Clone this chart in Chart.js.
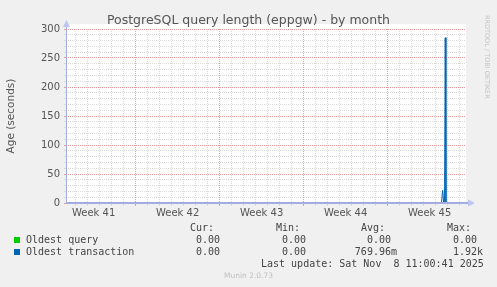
<!DOCTYPE html>
<html>
<head>
<meta charset="utf-8">
<script src="https://cdn.jsdelivr.net/npm/chart.js@4/dist/chart.umd.min.js"></script>
<style>
  body { margin: 0; background: #f0f0f0; }
  #wrap { position: relative; width: 497px; height: 287px; overflow: hidden; background: #f0f0f0; }
  #chart { position: absolute; left: 0; top: 0; }
  .t { position: absolute; white-space: pre; }
  .sans { font-family: "DejaVu Sans", sans-serif; color: #555; }
  .mono { font-family: "DejaVu Sans Mono", monospace; font-size: 10px; line-height: 12px; color: #444; }
</style>
</head>
<body>
<div id="wrap">
  <canvas id="chart" width="497" height="287"></canvas>
  <div class="t sans" style="left:0;width:497px;text-align:center;top:11.5px;font-size:12.5px;line-height:16px;">PostgreSQL query length (eppgw) - by month</div>
  <div class="t sans" style="left:483px;top:15px;font-size:6.5px;line-height:8px;color:#c4c4c4;writing-mode:vertical-rl;">RRDTOOL / TOBI OETIKER</div>
  <div id="legend"></div>
  <div class="t mono" style="left:261px;top:258px;">Last update: Sat Nov  8 11:00:41 2025</div>
  <div class="t sans" style="left:0;width:497px;text-align:center;top:271px;font-size:7.5px;line-height:10px;color:#c0c0c0;">Munin 2.0.73</div>
</div>
<script>
// x values are days since the start of the graph window
const days              = [0, 31.28, 31.39, 31.47, 31.54, 31.6, 31.66, 33.33];
const oldestQuery       = [0, 0,     0,     0,     0,     0,    0,     0];
const oldestTransaction = [0, 0,     22,    0,     0,     285,  0,     0];

const weekLabels = ["Week 41", "Week 42", "Week 43", "Week 44", "Week 45"];
const weekStarts = [-1.2, 5.8, 12.8, 19.8, 26.8];
const xMax = 33.33;

const seriesNames  = ["Oldest query", "Oldest transaction"];
const seriesColors = ["#00cc00", "#0066b3"];
const curVals = [0, 0];
const minVals = [0, 0];
const avgVals = [0, 0.76996];
const maxVals = [0, 1920];

function fmt(v) {
    if (v === 0) return "0.00 ";
    if (Math.abs(v) < 1) return (v * 1000).toFixed(2) + "m";
    if (Math.abs(v) >= 1000) return (v / 1000).toFixed(2) + "k";
    return v.toFixed(2) + " ";
}

// legend table, munin style
const legend = document.getElementById("legend");
const colEdges = [226, 312, 397, 483];
const heads = ["Cur:", "Min:", "Avg:", "Max:"];
function addText(txt, style) {
    const d = document.createElement("div");
    d.className = "t mono";
    d.style.cssText = style;
    d.textContent = txt;
    legend.appendChild(d);
}
heads.forEach((h, i) => addText(h + "  ", "right:" + (497 - colEdges[i]) + "px;top:222px;text-align:right;"));
seriesNames.forEach((name, r) => {
    const y = 234 + r * 12;
    const sq = document.createElement("div");
    sq.style.cssText = "position:absolute;left:14px;top:" + (y + 3) + "px;width:6px;height:6px;background:" + seriesColors[r] + ";";
    legend.appendChild(sq);
    addText(name, "left:26px;top:" + y + "px;");
    [curVals, minVals, avgVals, maxVals].forEach((arr, i) => {
        addText(fmt(arr[r]), "right:" + (497 - colEdges[i]) + "px;top:" + y + "px;text-align:right;");
    });
});

const minorGrid = "#dadada";
const majorGrid = "#ec9a9a";

const frame = {
    id: "frame",
    beforeDraw(chart) {
        const { ctx, chartArea: a } = chart;
        ctx.save();
        ctx.fillStyle = "#ffffff";
        ctx.fillRect(a.left, a.top - 5, a.right - a.left, a.bottom - a.top + 5);
        ctx.restore();
    },
    afterDatasetsDraw(chart) {
        const { ctx, chartArea: a } = chart;
        const y0 = chart.scales.y.getPixelForValue(0);
        ctx.save();
        ctx.strokeStyle = "#a2acdf";
        ctx.fillStyle = "#bcc4f0";
        ctx.lineWidth = 1;
        ctx.beginPath();
        ctx.moveTo(a.left + 0.5, y0);
        ctx.lineTo(a.left + 0.5, a.top - 4);
        ctx.stroke();
        ctx.lineWidth = 2;
        ctx.beginPath();
        ctx.moveTo(a.left, y0);
        ctx.lineTo(a.right + 2, y0);
        ctx.stroke();
        ctx.beginPath();
        ctx.moveTo(a.left - 3, a.top - 2);
        ctx.lineTo(a.left + 4, a.top - 2);
        ctx.lineTo(a.left + 0.5, a.top - 9);
        ctx.closePath();
        ctx.fill();
        ctx.beginPath();
        ctx.moveTo(a.right + 2, y0 - 3.5);
        ctx.lineTo(a.right + 2, y0 + 3.5);
        ctx.lineTo(a.right + 9, y0);
        ctx.closePath();
        ctx.fill();
        ctx.restore();
    }
};

function gridColor(ctx) {
    const t = ctx.tick;
    if (!t || t.kind === "label") return "rgba(0,0,0,0)";
    return t.kind === "major" ? majorGrid : minorGrid;
}

new Chart(document.getElementById("chart"), {
    type: "line",
    data: {
        datasets: [{
            label: seriesNames[0],
            data: days.map((d, i) => ({ x: d, y: oldestQuery[i] })),
            borderColor: seriesColors[0],
            borderWidth: 1,
            pointRadius: 0,
            tension: 0
        }, {
            label: seriesNames[1],
            data: days.map((d, i) => ({ x: d, y: oldestTransaction[i] })),
            borderColor: seriesColors[1],
            borderWidth: 1,
            pointRadius: 0,
            tension: 0
        }]
    },
    options: {
        responsive: false,
        animation: false,
        events: [],
        layout: { padding: { left: 0, right: 31, top: 29, bottom: 64 } },
        plugins: { legend: { display: false }, tooltip: { enabled: false }, title: { display: false } },
        scales: {
            x: {
                type: "linear",
                min: 0,
                max: xMax,
                afterFit: s => { s.height = 20; },
                afterBuildTicks: s => {
                    const ticks = [];
                    for (let i = -5; weekStarts[1] + i < xMax; i++) {
                        ticks.push({ value: weekStarts[1] + i, kind: (((i % 7) + 7) % 7 === 0) ? "major" : "minor" });
                    }
                    weekStarts.forEach((w, i) => ticks.push({ value: w + 3.5, kind: "label", text: weekLabels[i] }));
                    ticks.sort((a, b) => a.value - b.value);
                    s.ticks = ticks;
                },
                grid: { color: gridColor, tickColor: gridColor, tickLength: 3, lineWidth: 1 },
                border: { display: false, dash: [1, 1] },
                ticks: {
                    autoSkip: false,
                    maxRotation: 0,
                    padding: 1,
                    color: "#555",
                    font: { family: "DejaVu Sans", size: 10 },
                    callback: function (v, i, ticks) { return ticks[i].text || ""; }
                }
            },
            y: {
                min: 0,
                max: 300,
                afterFit: s => { s.width = 66; },
                afterBuildTicks: s => {
                    const ticks = [];
                    for (let v = 0; v <= 300; v += 10) ticks.push({ value: v });
                    s.ticks = ticks;
                },
                grid: {
                    color: c => (c.tick && c.tick.value % 50 === 0) ? majorGrid : minorGrid,
                    tickColor: c => (c.tick && c.tick.value % 50 === 0) ? majorGrid : minorGrid,
                    tickLength: 2
                },
                border: { display: false, dash: [1, 1] },
                title: {
                    display: true,
                    text: "Age (seconds)",
                    color: "#555",
                    font: { family: "DejaVu Sans", size: 10.5 },
                    padding: { top: 5, bottom: 0 }
                },
                ticks: {
                    autoSkip: false,
                    padding: 4,
                    color: "#555",
                    font: { family: "DejaVu Sans", size: 10 },
                    callback: v => (v % 50 === 0 ? String(v) : "")
                }
            }
        }
    },
    plugins: [frame]
});
</script>
</body>
</html>
